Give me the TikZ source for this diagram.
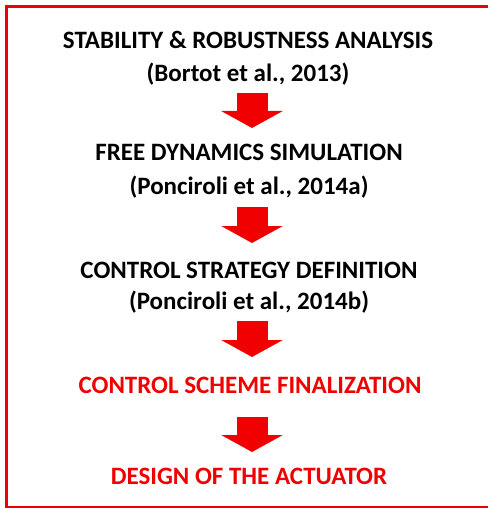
\documentclass[tikz,border=0pt]{standalone}
\usepackage{fontspec}
\setmainfont{Carlito}
\usetikzlibrary{arrows.meta}
\definecolor{flowred}{RGB}{240,0,0}
\tikzset{
  stagetext/.style={font=\bfseries\fontsize{25}{28}\selectfont, inner sep=0pt, anchor=center},
  refstage/.style={stagetext, text=black},
  goalstage/.style={stagetext, text=flowred},
  blockarrow/.style={line width=31pt, flowred,
    -{Triangle[width=61pt,length=17pt]}},
  framebar/.style={fill=flowred, draw=none},
}
\begin{document}
\begin{tikzpicture}[x=1pt,y=-1pt]
  \useasboundingbox (0,0) rectangle (488,508);
  \fill[white] (0,0) rectangle (488,508);
  % outer frame: top, left and bottom bars, open on the right
  \path[framebar] (5,5) rectangle (488,8);
  \path[framebar] (5,5) rectangle (8,508);
  \path[framebar] (5,505.5) rectangle (488,508);

  % stages
  \node[refstage] (s1) at (248,40) {STABILITY \& ROBUSTNESS ANALYSIS};
  \node[refstage] (r1) at (248,74) {(Bortot et al., 2013)};
  \node[refstage] (s2) at (249,152) {FREE DYNAMICS SIMULATION};
  \node[refstage] (r2) at (249,187) {(Ponciroli et al., 2014a)};
  \node[refstage] (s3) at (249,270) {CONTROL STRATEGY DEFINITION};
  \node[refstage] (r3) at (249,302) {(Ponciroli et al., 2014b)};
  \node[goalstage] (s4) at (250,385) {CONTROL SCHEME FINALIZATION};
  \node[goalstage] (s5) at (249,476) {DESIGN OF THE ACTUATOR};

  % arrow anchors
  \coordinate (a1t) at (252,93);   \coordinate (a1b) at (252,128);
  \coordinate (a2t) at (252,207);  \coordinate (a2b) at (252,243);
  \coordinate (a3t) at (252,321);  \coordinate (a3b) at (252,357);
  \coordinate (a4t) at (252,417);  \coordinate (a4b) at (252,452);

  \draw[blockarrow] (a1t) -- (a1b);
  \draw[blockarrow] (a2t) -- (a2b);
  \draw[blockarrow] (a3t) -- (a3b);
  \draw[blockarrow] (a4t) -- (a4b);
\end{tikzpicture}
\end{document}
